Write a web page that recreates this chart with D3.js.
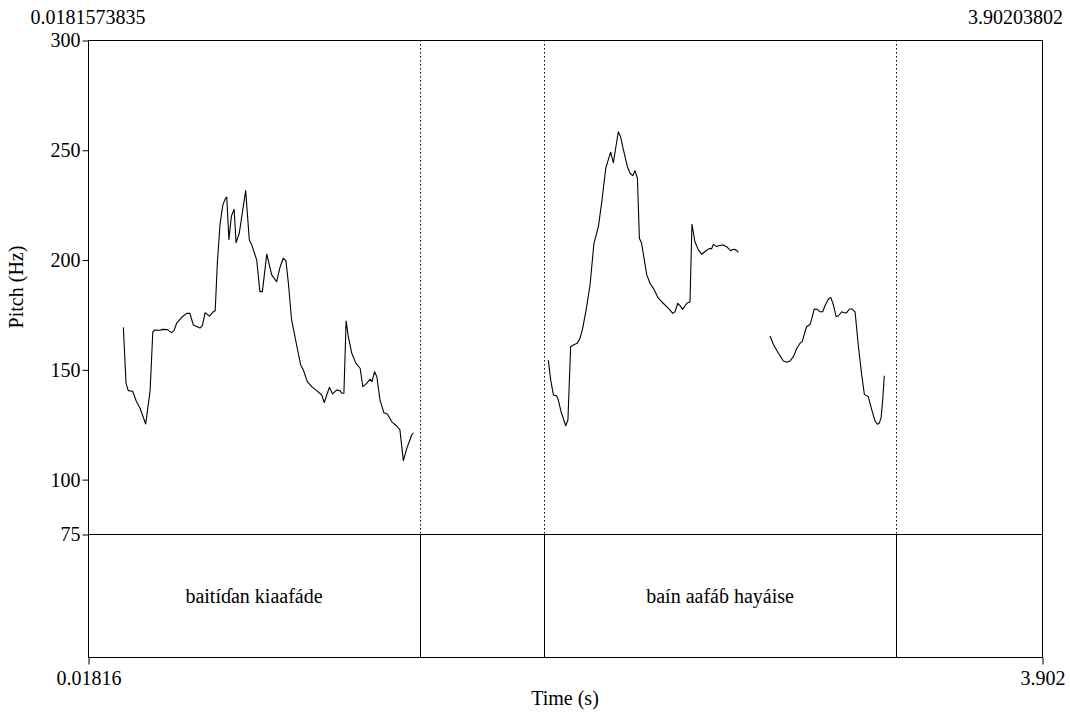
<!DOCTYPE html>
<html lang="en">
<head>
<meta charset="UTF-8" />
<title>Pitch contour with text grid</title>
<script src="https://d3js.org/d3.v7.min.js"></script>
<style>
  body { margin: 0; background: #fff; }
  svg { display: block; }
  svg text { font-family: "Liberation Serif", "Times New Roman", serif; font-size: 20px; fill: #000; }
  .frame { fill: none; stroke: #000; stroke-width: 1px; }
  .pitch { fill: none; stroke: #000; stroke-width: 1.1px; stroke-linejoin: round; }
  .axis line, .axis path { stroke: #000; }
</style>
</head>
<body>
<svg id="chart" width="1070" height="712"></svg>
<script>
// time range and pitch range of the plot
const timeRange = [0.0181573835, 3.90203802];
const pitchRange = [75, 300];
const pitchTicks = [75, 100, 150, 200, 250, 300];
const timeTickLabels = ["0.01816", "3.902"];
const topLabels = ["0.0181573835", "3.90203802"];

// interval boundaries (s) and labels of the text tier
const boundaries = [1.370, 1.875, 3.308];
const intervals = [
  { start: timeRange[0], end: 1.370, text: "baitíɗan kiaafáde" },
  { start: 1.875, end: 3.308, text: "baín aafáɓ hayáise" }
];

// pitch contours: [time (s), F0 (Hz)]
const contour1 = [
  [0.162,169.1],[0.173,143.6],[0.182,140.3],[0.200,140.0],[0.214,135.7],[0.230,132.3],
  [0.253,125.1],[0.271,140.3],[0.282,167.1],[0.291,167.9],[0.311,167.8],[0.322,168.2],
  [0.341,168.1],[0.359,166.7],[0.368,167.6],[0.379,171.0],[0.400,173.7],[0.420,175.5],
  [0.433,175.5],[0.447,170.2],[0.474,168.8],[0.484,170.0],[0.495,175.8],[0.512,174.2],
  [0.528,176.2],[0.536,176.7],[0.545,199.0],[0.556,216.5],[0.567,224.8],[0.576,227.4],
  [0.583,228.4],[0.592,209.2],[0.602,219.8],[0.613,222.9],[0.621,207.7],[0.634,212.0],
  [0.660,231.4],[0.675,208.9],[0.685,206.6],[0.705,199.8],[0.718,185.4],[0.728,185.4],
  [0.746,202.5],[0.766,193.0],[0.786,189.9],[0.800,196.5],[0.813,200.6],[0.824,199.5],
  [0.834,189.2],[0.847,172.5],[0.857,167.1],[0.870,159.6],[0.884,152.0],[0.895,149.7],
  [0.911,144.4],[0.929,142.1],[0.949,140.3],[0.970,138.3],[0.980,134.8],[0.990,138.3],
  [1.001,141.8],[1.014,138.8],[1.031,140.6],[1.044,140.3],[1.051,139.1],[1.060,139.1],
  [1.069,172.0],[1.078,164.9],[1.092,157.3],[1.109,152.7],[1.126,150.5],[1.137,142.1],
  [1.153,143.6],[1.166,145.5],[1.174,144.4],[1.185,148.9],[1.194,146.6],[1.207,136.0],
  [1.223,130.2],[1.237,129.7],[1.255,126.1],[1.275,124.2],[1.288,122.4],[1.302,108.4],
  [1.316,114.0],[1.336,120.1],[1.343,121.1]
];
const contour2 = [
  [1.892,154.2],[1.902,145.1],[1.913,138.3],[1.926,137.9],[1.933,136.0],[1.944,130.7],
  [1.953,127.7],[1.963,124.3],[1.972,126.9],[1.983,160.3],[1.994,161.1],[2.010,161.9],
  [2.021,164.1],[2.032,168.7],[2.046,177.0],[2.062,188.4],[2.078,207.4],[2.096,215.0],
  [2.110,226.4],[2.126,241.6],[2.134,244.6],[2.146,248.9],[2.157,244.1],[2.177,258.2],
  [2.187,255.7],[2.198,249.9],[2.214,242.3],[2.225,239.3],[2.236,238.2],[2.245,240.5],
  [2.255,237.0],[2.263,209.7],[2.272,207.4],[2.293,193.0],[2.306,189.2],[2.320,186.9],
  [2.340,182.4],[2.360,180.1],[2.381,177.8],[2.399,175.5],[2.408,176.2],[2.419,180.1],
  [2.428,179.0],[2.439,177.3],[2.456,180.1],[2.469,180.8],[2.477,216.1],[2.489,208.1],
  [2.503,204.4],[2.517,202.4],[2.534,204.0],[2.548,205.1],[2.557,204.9],[2.564,206.9],
  [2.578,205.9],[2.591,206.5],[2.605,206.6],[2.621,205.6],[2.635,204.0],[2.645,204.7],
  [2.656,204.4],[2.666,203.3]
];
const contour3 = [
  [2.795,165.2],[2.808,161.4],[2.829,157.3],[2.849,153.8],[2.863,153.2],[2.876,153.8],
  [2.890,155.8],[2.904,159.6],[2.917,161.9],[2.926,162.6],[2.937,167.1],[2.944,169.4],
  [2.958,170.5],[2.965,173.2],[2.975,177.5],[2.987,177.3],[2.998,176.2],[3.009,176.2],
  [3.020,179.3],[3.032,181.9],[3.042,182.8],[3.053,179.3],[3.064,174.0],[3.073,174.4],
  [3.087,176.2],[3.096,175.8],[3.107,175.8],[3.118,177.5],[3.128,177.5],[3.141,176.2],
  [3.154,161.1],[3.168,147.4],[3.179,138.6],[3.195,137.5],[3.209,131.5],[3.222,126.5],
  [3.232,125.0],[3.239,125.4],[3.247,128.0],[3.254,136.8],[3.260,147.1]
];

const svg = d3.select("#chart");
const plotLeft = 88, plotRight = 1042, plotTop = 40, pitchBottom = 534, plotBottom = 657;

const x = d3.scaleLinear().domain(timeRange).range([plotLeft, plotRight]);
const y = d3.scaleLinear().domain(pitchRange).range([pitchBottom, plotTop]);

// boundaries: dotted through the pitch area, solid in the tier
svg.selectAll(".bdot")
  .data(boundaries)
  .join("line")
  .attr("x1", d => Math.round(x(d)) + 0.5).attr("x2", d => Math.round(x(d)) + 0.5)
  .attr("y1", plotTop).attr("y2", pitchBottom)
  .attr("stroke", "#000").attr("stroke-width", 1)
  .attr("stroke-dasharray", "1.5,2.5");

svg.selectAll(".bsolid")
  .data(boundaries)
  .join("line")
  .attr("x1", d => Math.round(x(d)) + 0.5).attr("x2", d => Math.round(x(d)) + 0.5)
  .attr("y1", pitchBottom).attr("y2", plotBottom)
  .attr("stroke", "#000").attr("stroke-width", 1);

// tier separator at 75 Hz
svg.append("line")
  .attr("x1", plotLeft).attr("x2", plotRight)
  .attr("y1", y(75) + 0.5).attr("y2", y(75) + 0.5)
  .attr("stroke", "#000");

// pitch curves
const line = d3.line().x(d => x(d[0])).y(d => y(d[1]));
svg.selectAll(".pitch")
  .data([contour1, contour2, contour3])
  .join("path")
  .attr("class", "pitch")
  .attr("d", line);

// interval texts
svg.selectAll(".ilabel")
  .data(intervals)
  .join("text")
  .attr("x", d => x((d.start + d.end) / 2))
  .attr("y", (pitchBottom + plotBottom) / 2 + 7)
  .attr("text-anchor", "middle")
  .text(d => d.text);

// frame
svg.append("rect")
  .attr("class", "frame")
  .attr("x", plotLeft + 0.5).attr("y", plotTop + 0.5)
  .attr("width", plotRight - plotLeft).attr("height", plotBottom - plotTop);

// left pitch axis
svg.append("g")
  .attr("class", "axis")
  .attr("transform", `translate(${plotLeft + 0.5},0.5)`)
  .call(d3.axisLeft(y).tickValues(pitchTicks).tickSize(6).tickPadding(2).tickFormat(d3.format("d")))
  .call(g => g.select(".domain").remove());

// bottom time axis
svg.append("g")
  .attr("class", "axis")
  .attr("transform", `translate(0.5,${plotBottom + 0.5})`)
  .call(d3.axisBottom(x).tickValues(timeRange).tickSize(7).tickPadding(6)
    .tickFormat((d, i) => timeTickLabels[i]))
  .call(g => g.select(".domain").remove());

// top time labels
svg.append("text")
  .attr("x", plotLeft).attr("y", 24)
  .attr("text-anchor", "middle")
  .text(topLabels[0]);
svg.append("text")
  .attr("x", 1063).attr("y", 24)
  .attr("text-anchor", "end")
  .text(topLabels[1]);

// axis titles
svg.append("text")
  .attr("x", (plotLeft + plotRight) / 2).attr("y", 705)
  .attr("text-anchor", "middle")
  .text("Time (s)");
svg.append("text")
  .attr("transform", `translate(23,${(plotTop + pitchBottom) / 2}) rotate(-90)`)
  .attr("text-anchor", "middle")
  .text("Pitch (Hz)");
</script>
</body>
</html>
